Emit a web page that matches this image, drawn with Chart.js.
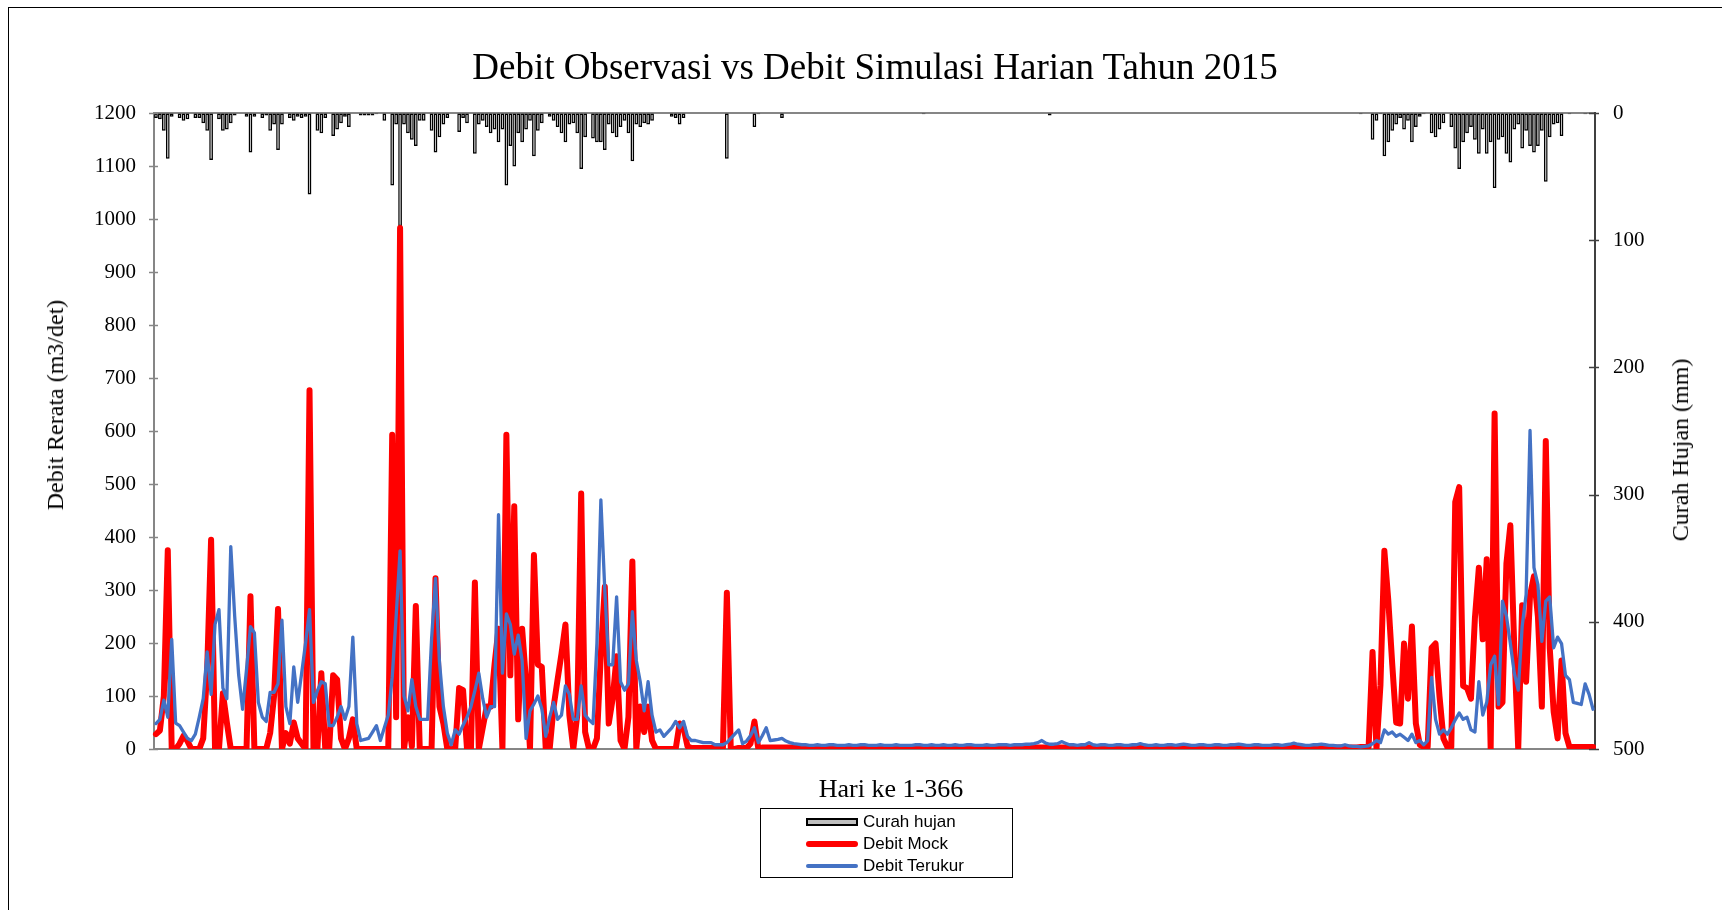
<!DOCTYPE html>
<html>
<head>
<meta charset="utf-8">
<script src="https://cdn.jsdelivr.net/npm/chart.js@4.4.1/dist/chart.umd.min.js"></script>
<style>
html,body{margin:0;padding:0;width:1722px;height:910px;overflow:hidden;background:#fff;}
#wrap{position:relative;width:1722px;height:910px;overflow:hidden;}
#frame{position:absolute;left:8px;top:7px;width:1740px;height:940px;border:1px solid #000;box-sizing:border-box;}
canvas{position:absolute;left:0;top:0;}
.serif{position:absolute;font-family:"Liberation Serif","Times New Roman",serif;color:#000;white-space:nowrap;}
#title{left:875px;top:48px;font-size:37px;line-height:37px;transform:translateX(-50%);}
#xtitle{left:891px;top:776px;font-size:26px;line-height:26px;transform:translateX(-50%);}
#ytitle{left:55px;top:405px;font-size:24px;line-height:24px;transform:translate(-50%,-50%) rotate(-90deg);}
#rtitle{left:1680px;top:450px;font-size:24px;line-height:24px;transform:translate(-50%,-50%) rotate(-90deg);}
#legend{position:absolute;left:760px;top:808px;width:253px;height:70px;border:1px solid #000;box-sizing:border-box;background:#fff;font-family:"Liberation Sans",Arial,sans-serif;font-size:17px;color:#000;}
.li{position:absolute;left:0;height:22px;width:100%;}
.li span{position:absolute;left:102px;top:0;line-height:22px;}
.sw{position:absolute;left:45px;width:52px;}
</style>
</head>
<body>
<div id="wrap">
  <div id="frame"></div>
  <canvas id="c" width="1722" height="910"></canvas>
  <div class="serif" id="title">Debit Observasi vs Debit Simulasi Harian Tahun 2015</div>
  <div class="serif" id="xtitle">Hari ke 1-366</div>
  <div class="serif" id="ytitle">Debit Rerata (m3/det)</div>
  <div class="serif" id="rtitle">Curah Hujan (mm)</div>
  <div id="legend">
    <div class="li" style="top:2px"><div class="sw" style="top:7px;height:8px;background:#bfbfbf;border:2px solid #000;box-sizing:border-box;"></div><span>Curah hujan</span></div>
    <div class="li" style="top:24px"><div class="sw" style="top:8px;height:6px;background:#ff0000;border-radius:3px;"></div><span>Debit Mock</span></div>
    <div class="li" style="top:46px"><div class="sw" style="top:9px;height:4px;background:#4472c4;border-radius:2px;"></div><span>Debit Terukur</span></div>
  </div>
</div>
<script>
// ---- categories ----
const days = Array.from({length: 366}, (_, i) => String(i + 1));

// ---- tick labels ----
const debitTicks = [0,100,200,300,400,500,600,700,800,900,1000,1100,1200];
const rainTicks = [0,100,200,300,400,500];

// ---- series: Curah hujan (mm), day 1..366 ----
const curahHujan = [
4,5,14,36,3,0,4,6,5,0,
4,4,8,14,37,0,5,14,13,8,
2,0,0,3,31,3,0,4,2,14,
9,29,9,0,4,6,3,4,3,64,
0,14,16,4,0,18,13,8,3,11,
0,0,2,2,2,2,1,0,6,0,
57,9,89,9,16,21,26,6,6,0,
14,31,19,9,4,0,0,15,4,8,
0,32,9,6,11,16,13,23,13,57,
26,42,16,23,13,6,34,14,8,0,
3,6,11,16,23,9,8,16,44,19,
0,20,23,23,29,9,16,19,11,6,
16,38,9,11,8,9,6,0,0,0,
0,3,4,9,4,0,0,0,0,0,
0,0,0,0,0,36,0,0,0,0,
0,0,11,1,0,0,0,0,0,4,
0,0,0,0,0,0,0,0,0,0,
0,0,0,0,0,0,0,0,0,0,
0,0,0,0,0,0,0,0,0,0,
0,0,0,0,0,1,0,0,0,0,
0,0,0,0,0,0,0,0,0,0,
0,0,0,0,0,0,0,0,0,0,
0,0,0,0,0,0,0,2,0,0,
0,0,0,0,0,0,0,0,0,0,
0,0,0,0,0,0,0,0,0,0,
0,0,0,0,0,0,0,0,0,0,
0,0,0,0,0,0,0,0,0,0,
0,0,0,0,0,0,0,0,0,0,
0,0,0,0,0,0,0,0,0,0,
0,0,0,0,0,0,0,0,0,0,
0,0,0,0,0,0,1,0,0,21,
6,1,34,23,14,9,4,13,6,23,
11,3,1,0,16,19,13,8,0,11,
28,44,23,16,11,21,32,13,32,23,
59,21,19,32,39,13,9,28,14,26,
31,26,14,54,19,9,8,18,0,1,
0,0,0,1,0,0
];

// ---- series: Debit Mock (m3/det) ----
const debitMock = [
28,35,100,375,0,0,10,25,15,0,
0,0,20,150,395,0,0,105,50,0,
0,0,0,0,288,0,0,0,0,30,
100,264,0,30,10,50,20,10,0,677,
0,0,143,0,0,139,131,20,0,20,
56,0,0,0,0,0,0,0,0,0,
593,60,983,0,60,5,270,0,0,0,
0,322,80,48,0,0,0,115,111,0,
0,314,0,40,80,80,160,227,0,593,
139,458,56,227,127,0,366,159,155,0,
0,80,131,180,235,64,0,64,482,32,
0,0,20,180,306,48,95,175,16,0,
60,354,0,80,32,80,16,0,0,0,
0,0,0,48,40,5,2,2,2,2,
2,2,2,2,2,295,0,0,2,2,
2,10,52,0,3,3,3,3,3,3,
3,3,3,3,3,3,3,3,3,3,
3,3,3,3,3,3,3,3,3,3,
3,3,3,3,3,3,3,3,3,3,
3,3,3,3,3,3,3,3,3,3,
3,3,3,3,3,3,3,3,3,3,
3,3,3,3,3,3,3,3,3,3,
3,3,3,3,3,3,3,3,3,3,
3,3,3,3,3,3,3,3,3,3,
3,3,3,3,3,3,3,3,3,3,
3,3,3,3,3,3,3,3,3,3,
3,3,3,3,3,3,3,3,3,3,
3,3,3,3,3,3,3,3,3,3,
3,3,3,3,3,3,3,3,3,3,
3,3,3,3,3,3,3,3,3,3,
3,3,3,3,3,3,4,4,4,183,
0,120,374,280,160,50,48,199,95,231,
48,8,4,4,191,199,100,20,4,4,
466,494,119,115,95,247,342,207,358,0,
633,80,88,350,422,191,0,271,127,290,
326,250,80,581,191,70,20,167,30,4,
4,4,4,4,4,4
];

// ---- series: Debit Terukur (m3/det) ----
const debitTerukur = [
48,56,92,60,207,49,44,32,20,16,
28,60,95,183,103,235,263,115,95,382,
250,140,75,150,231,219,88,60,52,107,
107,123,243,80,48,155,88,143,200,263,
88,110,127,123,44,44,60,80,56,80,
211,48,16,18,20,32,44,16,40,64,
135,250,374,100,72,131,80,56,56,56,
207,322,165,80,30,8,36,28,45,60,
80,110,143,95,60,80,80,442,143,255,
235,179,215,167,20,72,85,100,76,24,
60,88,56,64,119,103,56,56,119,64,
55,48,200,470,300,159,159,287,127,111,
123,259,167,127,72,127,64,32,36,24,
32,40,52,40,52,24,16,16,14,12,
12,12,8,8,8,12,20,28,36,10,
15,25,40,12,25,40,16,17,18,20,
15,12,10,9,8,8,7,7,8,7,
7,8,8,7,7,7,8,7,7,8,
8,7,7,7,8,7,7,7,8,7,
7,7,7,8,8,7,7,8,7,7,
8,7,7,8,7,7,8,8,7,7,
7,8,7,7,8,8,8,7,8,8,
8,9,9,10,12,16,11,9,9,10,
14,11,8,8,7,8,8,12,8,7,
8,8,7,7,8,8,7,7,8,8,
10,8,7,7,8,7,7,8,8,7,
8,9,8,7,7,8,8,7,7,8,
8,7,7,8,8,9,8,7,7,8,
8,7,7,7,8,8,7,8,9,11,
9,8,7,7,8,8,9,8,7,7,
6,6,8,6,5,5,4,5,6,10,
16,12,36,28,32,24,28,22,16,28,
12,16,8,16,135,56,28,36,28,40,
55,68,56,60,36,32,127,64,88,159,
175,84,279,251,199,143,111,231,291,601,
342,310,203,279,287,191,211,199,139,131,
88,86,84,123,103,75
];

const crossTicks = {
  id: 'crossTicks',
  afterDraw(chart) {
    const {ctx, chartArea, scales} = chart;
    ctx.save();
    const spec = [
      {id: 'y', x: chartArea.left, color: '#868686', out: 5, inn: 4},
      {id: 'yR', x: chartArea.right, color: '#404040', out: 4, inn: 6}
    ];
    spec.forEach(s => {
      const sc = scales[s.id];
      ctx.beginPath();
      ctx.strokeStyle = s.color;
      ctx.lineWidth = 1.3;
      sc.ticks.forEach(t => {
        const py = Math.round(sc.getPixelForValue(t.value)) + 0.5;
        if (s.id === 'y') { ctx.moveTo(s.x - s.out, py); ctx.lineTo(s.x + s.inn, py); }
        else { ctx.moveTo(s.x - s.inn, py); ctx.lineTo(s.x + s.out, py); }
      });
      ctx.stroke();
    });
    ctx.restore();
  }
};

const tickFont = {family: 'Liberation Serif', size: 21};
const plainNum = (v) => String(v);

new Chart(document.getElementById('c'), {
  type: 'bar',
  data: {
    labels: days,
    datasets: [
      {
        type: 'line', label: 'Debit Terukur', data: debitTerukur,
        yAxisID: 'y', xAxisID: 'x', borderColor: '#4472c4', borderWidth: 3.3,
        pointRadius: 0, tension: 0, borderJoinStyle: 'round', borderCapStyle: 'round', order: 1
      },
      {
        type: 'line', label: 'Debit Mock', data: debitMock,
        yAxisID: 'y', xAxisID: 'x', borderColor: '#ff0000', borderWidth: 6,
        pointRadius: 0, tension: 0, borderJoinStyle: 'round', borderCapStyle: 'round', order: 2
      },
      {
        type: 'bar', label: 'Curah hujan', data: curahHujan,
        yAxisID: 'yR', xAxisID: 'x', backgroundColor: '#bfbfbf', borderColor: '#000000',
        borderWidth: 1.5, borderSkipped: false, categoryPercentage: 1.0, barPercentage: 0.95, order: 3
      }
    ]
  },
  options: {
    responsive: false,
    animation: false,
    devicePixelRatio: 1,
    layout: {padding: 0},
    plugins: {legend: {display: false}, title: {display: false}, tooltip: {enabled: false}},
    scales: {
      x: {
        type: 'category', position: 'bottom', offset: true,
        grid: {display: false}, ticks: {display: false},
        border: {display: true, color: '#868686', width: 2},
        afterFit(s) { s.height = 161; }
      },
      xTop: {
        type: 'category', position: 'top', offset: true,
        grid: {display: false}, ticks: {display: false},
        border: {display: true, color: '#868686', width: 2},
        afterFit(s) { s.height = 113; }
      },
      y: {
        position: 'left', min: debitTicks[0], max: debitTicks[debitTicks.length - 1],
        afterBuildTicks(s) { s.ticks = debitTicks.map(v => ({value: v})); },
        ticks: {font: tickFont, color: '#000', padding: 18, callback: plainNum},
        grid: {display: true, drawOnChartArea: false, drawTicks: false, color: 'rgba(0,0,0,0)'},
        border: {display: true, color: '#868686', width: 2},
        afterFit(s) { s.width = 154; }
      },
      yR: {
        position: 'right', reverse: true, min: rainTicks[0], max: rainTicks[rainTicks.length - 1],
        afterBuildTicks(s) { s.ticks = rainTicks.map(v => ({value: v})); },
        ticks: {font: tickFont, color: '#000', padding: 18, callback: plainNum},
        grid: {display: true, drawOnChartArea: false, drawTicks: false, color: 'rgba(0,0,0,0)'},
        border: {display: true, color: '#404040', width: 2},
        afterFit(s) { s.width = 127; }
      }
    }
  },
  plugins: [crossTicks]
});
</script>
</body>
</html>
